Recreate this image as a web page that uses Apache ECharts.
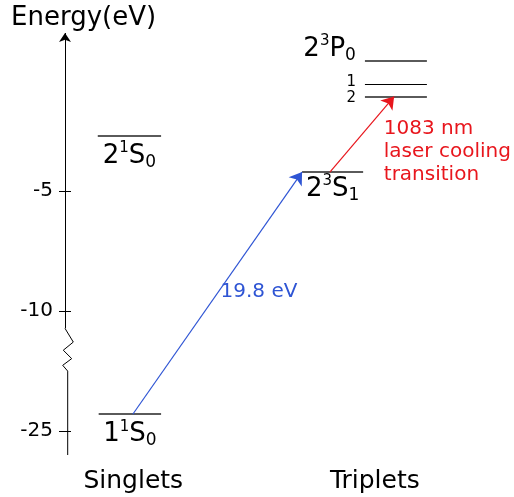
<!DOCTYPE html>
<html>
<head>
<meta charset="utf-8">
<script src="https://cdn.jsdelivr.net/npm/echarts@6/dist/echarts.min.js"></script>
<style>
html, body { margin: 0; padding: 0; background: #fff; }
#energyChart { width: 514px; height: 497px; }
</style>
</head>
<body>
<div id="energyChart"></div>
<script>
// energy levels (eV), x extent in column units (0..100)
let levelNames = ['1¹S₀', '2¹S₀', '2³S₁', '2³P₂', '2³P₁', '2³P₀']
let levelEnergy = [-24.3, -2.7, -4.2, -1.05, -0.52, 0.44]
let levelStart = [7.5, 7.3, 52.8, 66.8, 66.8, 66.8]
let levelEnd = [21.4, 21.4, 66.4, 80.6, 80.6, 80.6]
let levelText = ['{b|1}{sup|1}{b|S}{sub|0}', '{b|2}{sup|1}{b|S}{sub|0}', '{b|2}{sup|3}{b|S}{sub|1}', '{s|2}', '{s|1}', '{b|2}{sup|3}{b|P}{sub|0}']

// transitions: from level, to level, x at start and end
let transFrom = [0, 2]
let transTo = [2, 3]
let transX0 = [15.1, 59.0]
let transX1 = [52.8, 73.3]
let transColor = ['#2f55d4', '#e8161d']
let transText = ['19.8 eV', '1083 nm\nlaser cooling\ntransition']
let transTextPos = [[43.2, -9.2], [71.0, -1.9]]

// columns
let columnNames = ['Singlets', 'Triplets']
let columnCenters = [15.2, 69.0]

// y axis ticks (real eV) ; axis is broken between -10 and -25
let tickValues = [-5, -10, -25]

// broken axis: everything below -20 eV is shifted up by 10
function toAxis(e) {
    return e < -15 ? e + 10 : e
}
function fromAxis(v) {
    return v < -12.5 ? v - 10 : v
}

// axis line with the zig-zag break (axis units)
let axisBreak = [[0, -10.72], [1.85, -11.29], [-0.38, -11.63], [1.49, -11.98], [-0.51, -12.26], [0.6, -12.5], [0.6, -16]]

let font = 'DejaVu Sans'
let richLabel = {
    b: { fontSize: 26, lineHeight: 30, fontFamily: font, color: '#000' },
    sup: { fontSize: 15, lineHeight: 15, verticalAlign: 'top', fontFamily: font, color: '#000' },
    sub: { fontSize: 17, lineHeight: 15, verticalAlign: 'bottom', fontFamily: font, color: '#000' },
    s: { fontSize: 15, fontFamily: font, color: '#000' }
}

let levelData = levelNames.map((name, i) => {
    let y = toAxis(levelEnergy[i])
    let isP = i >= 3
    let label = isP
        ? { position: 'start', distance: 9, offset: [0, i === 5 ? -12 : (i === 4 ? -2 : 2)] }
        : { position: 'insideMiddleBottom', distance: i === 2 ? 2 : 5 }
    return {
        name: name,
        coords: [[levelStart[i], y], [levelEnd[i], y]],
        lineStyle: i === 4 ? { color: '#000', width: 1.2, opacity: 1 } : { color: '#5a5a5a', width: 1.8, opacity: 1 },
        label: Object.assign({ show: true, formatter: levelText[i], rich: richLabel, opacity: 1 }, label)
    }
})

let transData = transFrom.map((f, i) => ({
    coords: [[transX0[i], toAxis(levelEnergy[f])], [transX1[i], toAxis(levelEnergy[transTo[i]])]],
    lineStyle: { color: transColor[i], width: 1.2, opacity: 1 }
}))

let textData = transText.map((t, i) => ({
    value: transTextPos[i],
    label: {
        show: true,
        formatter: t,
        color: transColor[i],
        opacity: 1,
        align: i === 0 ? 'center' : 'left',
        verticalAlign: i === 0 ? 'middle' : 'top',
        position: 'inside',
        fontSize: 20,
        lineHeight: 23,
        fontFamily: font
    }
}))

let energyChart = echarts.init(document.getElementById('energyChart'))
let option = {
    animation: false,
    title: {
        text: 'Energy(eV)',
        left: 6,
        top: 0,
        textStyle: { fontSize: 26, fontWeight: 'normal', fontFamily: font, color: '#000' }
    },
    grid: { left: 65, right: 0, top: 33, height: 422 },
    xAxis: {
        type: 'value',
        min: 0,
        max: 100,
        splitLine: { show: false },
        axisLine: { show: false },
        axisTick: { show: false },
        axisLabel: {
            customValues: columnCenters,
            formatter: v => columnNames[columnCenters.indexOf(v)],
            fontSize: 25,
            fontFamily: font,
            color: '#000',
            margin: 14
        }
    },
    yAxis: {
        type: 'value',
        min: -16,
        max: 1.6,
        offset: -6,
        splitLine: { show: false },
        axisLine: { show: false },
        axisTick: {
            customValues: tickValues.map(toAxis),
            length: 12,
            lineStyle: { color: '#000' }
        },
        axisLabel: {
            customValues: tickValues.map(toAxis),
            formatter: v => String(Math.round(fromAxis(v))),
            fontSize: 20,
            fontFamily: font,
            color: '#000',
            margin: 18
        }
    },
    series: [
        {
            name: 'axis',
            type: 'lines',
            coordinateSystem: 'cartesian2d',
            polyline: true,
            clip: false,
            silent: true,
            lineStyle: { color: '#000', width: 1, opacity: 1 },
            data: [{ coords: axisBreak }]
        },
        {
            name: 'axisTop',
            type: 'lines',
            coordinateSystem: 'cartesian2d',
            clip: false,
            silent: true,
            symbol: ['none', 'arrow'],
            symbolSize: 9,
            lineStyle: { color: '#000', width: 1, opacity: 1 },
            data: [{ coords: [axisBreak[0], [0, 1.6]] }]
        },
        {
            name: 'levels',
            type: 'lines',
            coordinateSystem: 'cartesian2d',
            clip: false,
            lineStyle: { width: 1.5, opacity: 1 },
            data: levelData
        },
        {
            name: 'transitions',
            type: 'lines',
            coordinateSystem: 'cartesian2d',
            clip: false,
            symbol: ['none', 'arrow'],
            symbolSize: 12,
            lineStyle: { width: 1.2, opacity: 1 },
            data: transData
        },
        {
            name: 'notes',
            type: 'scatter',
            symbolSize: 0,
            itemStyle: { opacity: 1 },
            data: textData
        }
    ]
}

energyChart.setOption(option)
window.onresize = function() {
    energyChart.resize()
}
</script>
</body>
</html>
